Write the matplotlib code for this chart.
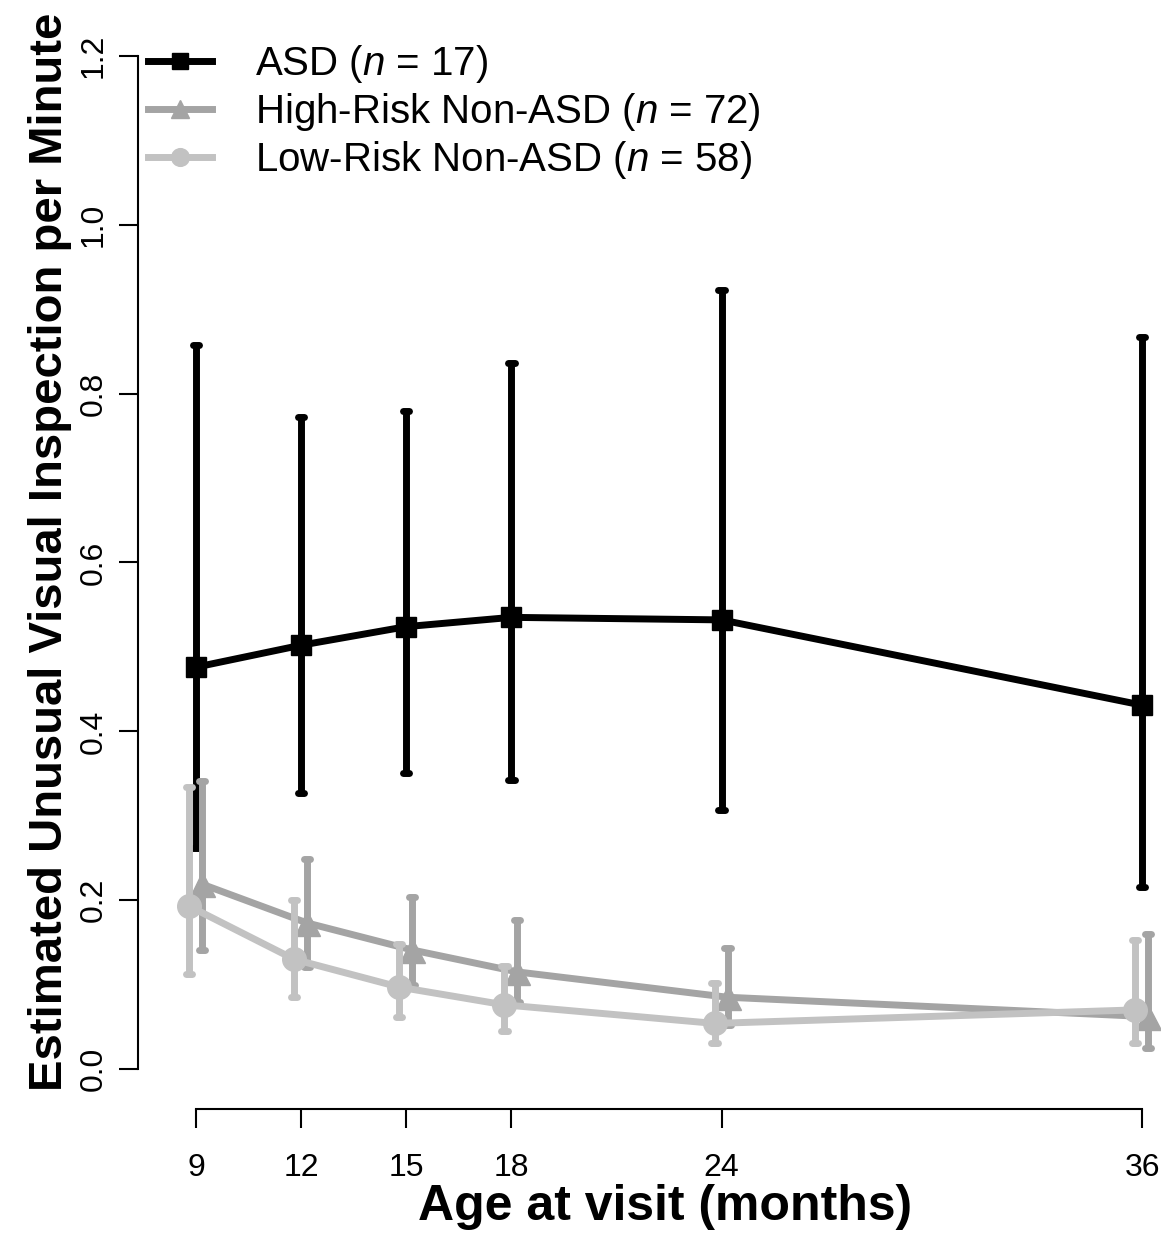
import matplotlib
matplotlib.use('Agg')
import matplotlib.pyplot as plt
from matplotlib import font_manager
import numpy as np

plt.rcParams['font.family'] = ['Liberation Sans', 'DejaVu Sans']
plt.rcParams['mathtext.fontset'] = 'custom'
plt.rcParams['mathtext.rm'] = 'Liberation Sans'
plt.rcParams['mathtext.it'] = 'Liberation Sans:italic'

# visit ages (months) and estimated rates with interval bounds
months = [9, 12, 15, 18, 24, 36]

asd_mean = [0.476, 0.502, 0.524, 0.535, 0.532, 0.431]
asd_lo = [0.262, 0.327, 0.351, 0.342, 0.307, 0.216]
asd_hi = [0.858, 0.772, 0.779, 0.836, 0.923, 0.867]

hr_mean = [0.219, 0.173, 0.141, 0.115, 0.085, 0.062]
hr_lo = [0.141, 0.121, 0.100, 0.079, 0.052, 0.025]
hr_hi = [0.341, 0.249, 0.204, 0.176, 0.143, 0.160]

lr_mean = [0.193, 0.130, 0.097, 0.076, 0.054, 0.070]
lr_lo = [0.113, 0.085, 0.062, 0.045, 0.031, 0.031]
lr_hi = [0.334, 0.200, 0.148, 0.122, 0.102, 0.153]

labels = ['ASD ($n$ = 17)', 'High-Risk Non-ASD ($n$ = 72)', 'Low-Risk Non-ASD ($n$ = 58)']
yticks = [0.0, 0.2, 0.4, 0.6, 0.8, 1.0, 1.2]

# narrow face for tick numbers if available
names = set(f.name for f in font_manager.fontManager.ttflist)
tick_family = 'Liberation Sans Narrow' if 'Liberation Sans Narrow' in names else 'Liberation Sans'
tick_size = 27 if tick_family == 'Liberation Sans Narrow' else 23

W, H = 1170, 1235
fig = plt.figure(figsize=(W / 100, H / 100), dpi=100)
ax = fig.add_axes([138 / W, (H - 1109) / H, (1160 - 138) / W, (1109 - 40) / H])

px_per_unit = 844.2
px_per_month = 35.04
x0 = 9 - (196 - 138) / px_per_month
ax.set_xlim(x0, x0 + (1160 - 138) / px_per_month)
ax.set_ylim(-(1109 - 1069) / px_per_unit, (1069 - 40) / px_per_unit)


def draw_series(dx, mean, lo, hi, color, marker, ms, label):
    x = np.array(months) + dx
    lw = 5
    ax.vlines(x, lo, hi, color=color, lw=lw, capstyle='butt')
    cw = 0.09
    for xi, l, h in zip(x, lo, hi):
        ax.plot([xi - cw, xi + cw], [l, l], color=color, lw=lw, solid_capstyle='round')
        ax.plot([xi - cw, xi + cw], [h, h], color=color, lw=lw, solid_capstyle='round')
    ax.plot(x, mean, color=color, lw=lw, marker=marker, ms=ms, mec=color, mfc=color,
            solid_joinstyle='round', label=label)


draw_series(0.0, asd_mean, asd_lo, asd_hi, 'black', 's', 15, labels[0])
draw_series(0.17, hr_mean, hr_lo, hr_hi, '#a4a4a4', '^', 18, labels[1])
draw_series(-0.2, lr_mean, lr_lo, lr_hi, '#c2c2c2', 'o', 17, labels[2])

for s in ['top', 'right']:
    ax.spines[s].set_visible(False)
ax.spines['left'].set_bounds(0, 1.2)
ax.spines['bottom'].set_bounds(9, 36)
ax.spines['left'].set_linewidth(1.5)
ax.spines['bottom'].set_linewidth(1.5)

ax.set_yticks(yticks)
ax.set_yticklabels(['%.1f' % v for v in yticks], rotation=90, va='center',
                   fontsize=tick_size, family=tick_family)
ax.set_xticks(months)
ax.set_xticklabels([str(m) for m in months], fontsize=tick_size, family=tick_family)
ax.tick_params(axis='both', direction='out', length=14, width=1.5)
ax.tick_params(axis='y', pad=7)
ax.tick_params(axis='x', pad=18)

fig.text(50 / W, 1 - 552 / H, 'Estimated Unusual Visual Inspection per Minute',
         rotation=90, ha='center', va='center', fontsize=34, fontweight='bold')
fig.text(665 / W, 1 - 1207 / H, 'Age at visit (months)',
         ha='center', va='center', fontsize=36, fontweight='bold')

leg = ax.legend(loc='upper left', bbox_to_anchor=(148 / W, 1 - 43 / H),
                bbox_transform=fig.transFigure, frameon=False, fontsize=29,
                handlelength=1.6, handletextpad=1.05, labelspacing=0.15,
                markerscale=0.75, borderpad=0, borderaxespad=0)

fig.savefig('out.png', dpi=100)
